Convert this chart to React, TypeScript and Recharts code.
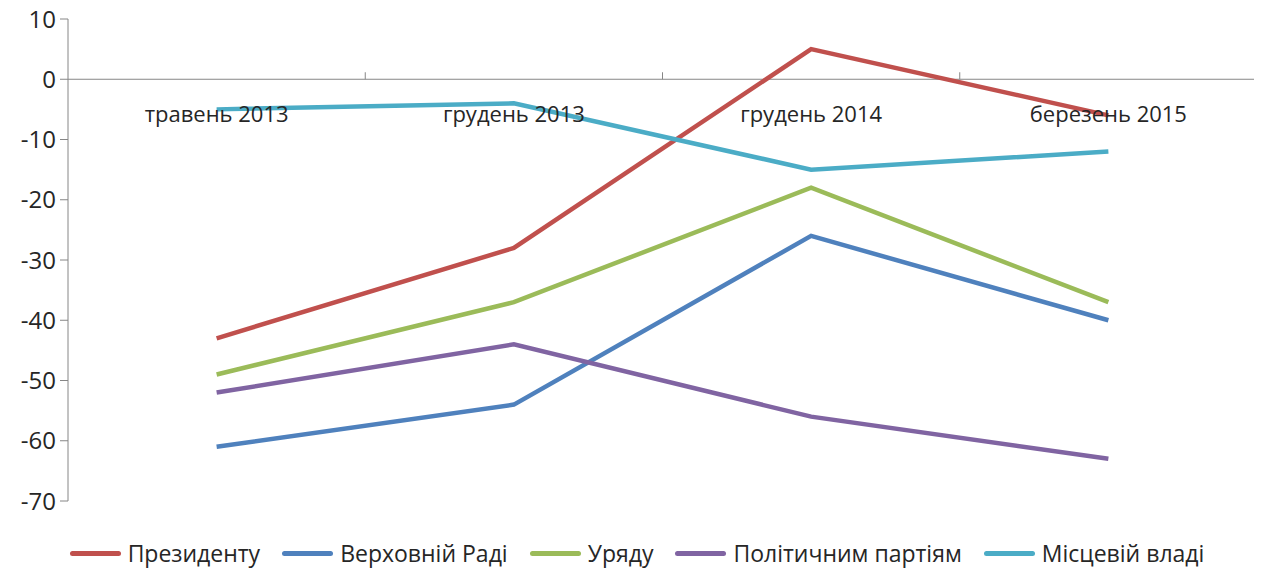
import { LineChart, Line, XAxis, YAxis, ReferenceLine } from "recharts";

const categories = ["травень 2013", "грудень 2013", "грудень 2014", "березень 2015"];
const president = [-43, -28, 5, -6];
const rada = [-61, -54, -26, -40];
const government = [-49, -37, -18, -37];
const parties = [-52, -44, -56, -63];
const local = [-5, -4, -15, -12];
const yTicks = [10, 0, -10, -20, -30, -40, -50, -60, -70];

const series = [
  { key: "president", name: "Президенту", color: "#C0504D", values: president },
  { key: "rada", name: "Верховній Раді", color: "#4F81BD", values: rada },
  { key: "government", name: "Уряду", color: "#9BBB59", values: government },
  { key: "parties", name: "Політичним партіям", color: "#8064A2", values: parties },
  { key: "local", name: "Місцевій владі", color: "#4BACC6", values: local },
];

const data = categories.map((c, i) => {
  const row: Record<string, string | number> = { category: c };
  series.forEach((s) => (row[s.key] = s.values[i]));
  return row;
});

// the page has an 8px body margin; the wrapper pulls the chart back to the corner
const W = 1262;
const H = 528;
const M = { top: 19, right: 5, left: 0, bottom: 7 };
const Y_AXIS_W = 68;
const X_AXIS_H = 20;
const PLOT_H = H - M.top - M.bottom - X_AXIS_H;
const PLOT_W = W - M.left - M.right - Y_AXIS_W;
const Y_MIN = -70;
const Y_MAX = 10;
const zeroY = M.top + ((Y_MAX - 0) / (Y_MAX - Y_MIN)) * PLOT_H;
const band = PLOT_W / categories.length;
const FONT = "'Open Sans', sans-serif";
const TEXT = "#262626";
const AXIS = "#868686";

function CategoryTick(props: any) {
  const { x, payload } = props;
  return (
    <g>
      <line x1={x + band / 2} x2={x + band / 2} y1={zeroY} y2={zeroY - 7} stroke={AXIS} />
      <text x={x} y={zeroY + 43} textAnchor="middle" fontSize={22} fill={TEXT} fontFamily={FONT}>
        {payload.value}
      </text>
    </g>
  );
}

export default function App() {
  return (
    <div style={{ width: W, fontFamily: FONT, position: "relative", top: -8, left: -8 }}>
      <LineChart width={W} height={H} data={data} margin={M}>
        <YAxis
          domain={[Y_MIN, Y_MAX]}
          ticks={yTicks}
          interval={0}
          width={Y_AXIS_W}
          tickSize={8}
          tickMargin={4}
          stroke={AXIS}
          tick={{ fontSize: 24, fill: TEXT, fontFamily: FONT }}
        />
        <XAxis
          dataKey="category"
          axisLine={false}
          tickLine={false}
          height={X_AXIS_H}
          interval={0}
          padding={{ left: band / 2, right: band / 2 }}
          tick={<CategoryTick />}
        />
        <ReferenceLine y={0} stroke={AXIS} strokeWidth={1} />
        {series.map((s) => (
          <Line
            key={s.key}
            dataKey={s.key}
            name={s.name}
            stroke={s.color}
            strokeWidth={4.5}
            dot={false}
            isAnimationActive={false}
          />
        ))}
      </LineChart>
      <div
        style={{
          height: 50,
          display: "flex",
          justifyContent: "center",
          alignItems: "center",
          gap: 22,
          fontSize: 23,
          color: TEXT,
          paddingLeft: 12,
        }}
      >
        {series.map((s) => (
          <div key={s.key} style={{ display: "flex", alignItems: "center", gap: 7 }}>
            <span style={{ width: 51, height: 5, borderRadius: 3, background: s.color, display: "inline-block" }} />
            <span>{s.name}</span>
          </div>
        ))}
      </div>
    </div>
  );
}
